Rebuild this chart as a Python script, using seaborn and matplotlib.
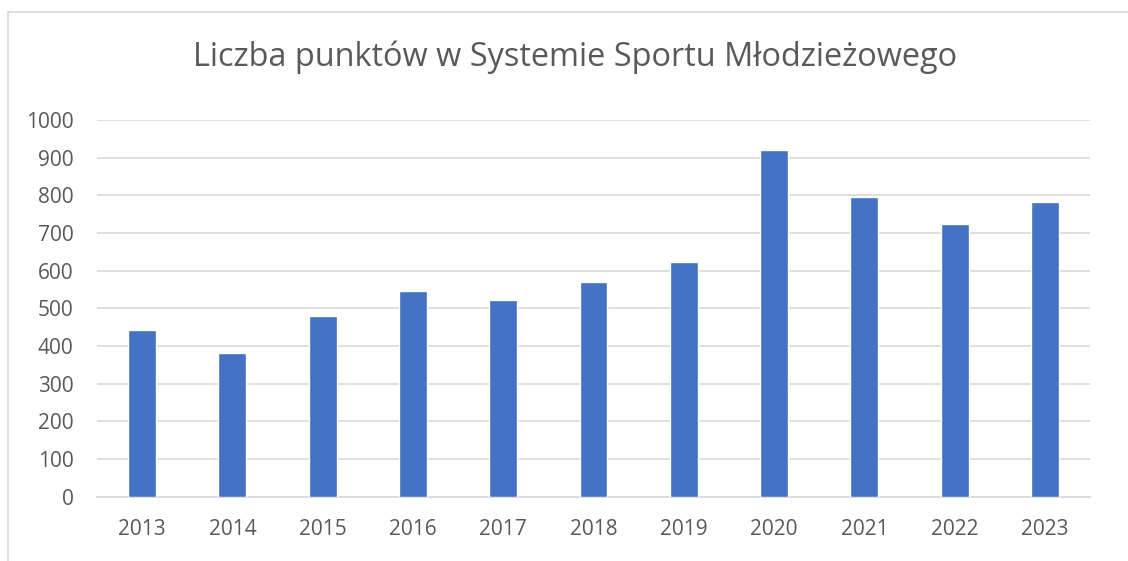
import matplotlib
matplotlib.use("Agg")
import matplotlib.pyplot as plt
import seaborn as sns
import pandas as pd
from matplotlib.lines import Line2D

years = ["2013", "2014", "2015", "2016", "2017", "2018", "2019", "2020", "2021", "2022", "2023"]
points = [442, 382, 481, 546, 522, 570, 624, 920, 795, 725, 782]
y_ticks = [0, 100, 200, 300, 400, 500, 600, 700, 800, 900, 1000]
title = "Liczba punktów w Systemie Sportu Młodzieżowego"

sns.set_theme(style="white")
plt.rcParams["font.family"] = ["Open Sans", "DejaVu Sans"]

df = pd.DataFrame({"year": years, "points": points})

fig = plt.figure(figsize=(11.28, 5.61), dpi=100)
ax = fig.add_axes([97/1128, 1 - 496.7/561, (1090-97)/1128, (496.7-120)/561])

sns.barplot(data=df, x="year", y="points", color="#4472C4", width=0.31,
            saturation=1, ax=ax, zorder=3)

ax.set_ylim(0, 1000)
ax.set_xlim(-0.5, len(years) - 0.5)
ax.set_yticks(y_ticks)
ax.set_yticklabels([str(v) for v in y_ticks])
ax.yaxis.grid(True, color="#D9D9D9", linewidth=1.2, zorder=0)
ax.set_axisbelow(True)
for s in ["top", "right", "left"]:
    ax.spines[s].set_visible(False)
ax.spines["bottom"].set_color("#D9D9D9")
ax.spines["bottom"].set_linewidth(1.2)
ax.set_xlabel("")
ax.set_ylabel("")
ax.tick_params(axis="both", length=0, labelsize=15, colors="#595959")
ax.tick_params(axis="x", pad=16)
ax.tick_params(axis="y", pad=17)

fig.text(575/1128, 1 - 57/561, title, ha="center", va="center", fontsize=23.4, color="#595959")

# chart border
fig.add_artist(Line2D([8/1128, 1], [1 - 12/561, 1 - 12/561], color="#D9D9D9", linewidth=1.2, transform=fig.transFigure))
fig.add_artist(Line2D([8/1128, 8/1128], [0, 1 - 12/561], color="#D9D9D9", linewidth=1.2, transform=fig.transFigure))

fig.savefig("out.png", dpi=100, facecolor="white")
